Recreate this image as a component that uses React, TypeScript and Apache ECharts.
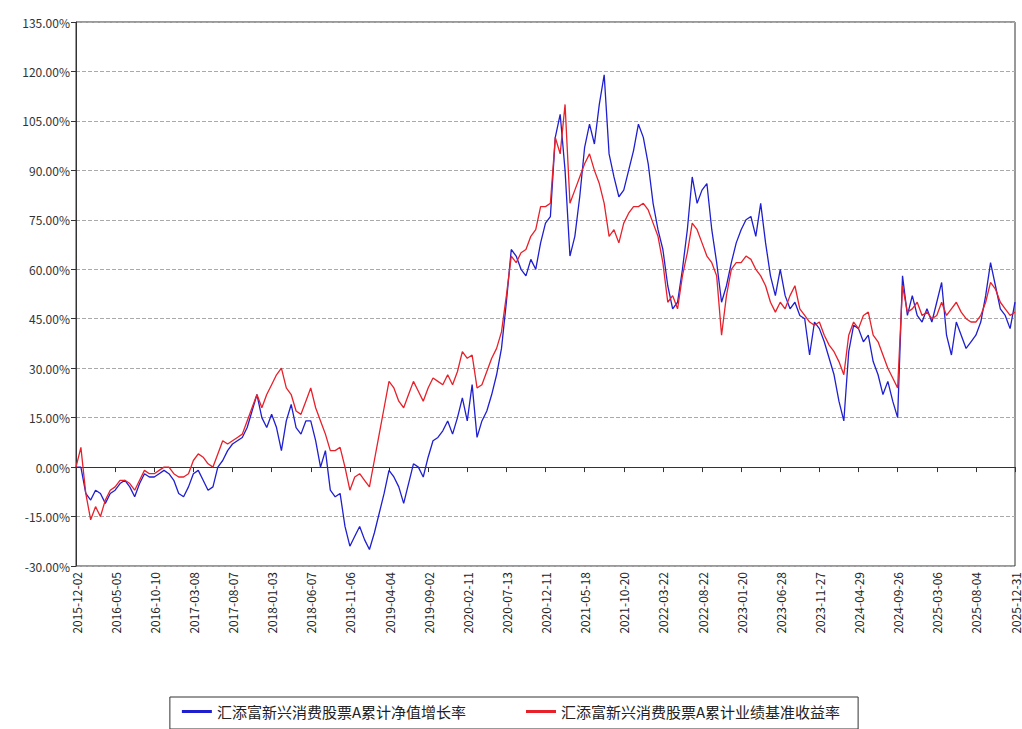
import React, { useEffect, useRef } from 'react';
import * as echarts from 'echarts';

// tick labels on the x axis; 7 unlabeled samples sit between each pair
const tickLabels = [
  '2015-12-02', '2016-05-05', '2016-10-10', '2017-03-08', '2017-08-07', '2018-01-03',
  '2018-06-07', '2018-11-06', '2019-04-04', '2019-09-02', '2020-02-11', '2020-07-13',
  '2020-12-11', '2021-05-18', '2021-10-20', '2022-03-22', '2022-08-22', '2023-01-20',
  '2023-06-28', '2023-11-27', '2024-04-29', '2024-09-26', '2025-03-06', '2025-08-04',
  '2025-12-31',
];

const navGrowth = [
  0, 0, -8, -10, -7, -8, -11, -8,
  -7, -5, -4, -6, -9, -5, -2, -3,
  -3, -2, -1, -2, -4, -8, -9, -6,
  -2, -1, -4, -7, -6, 0, 2, 5,
  7, 8, 9, 12, 17, 22, 15, 12,
  16, 12, 5, 14, 19, 12, 10, 14,
  14, 8, 0, 5, -7, -9, -8, -18,
  -24, -21, -18, -22, -25, -20, -14, -8,
  -1, -3, -6, -11, -5, 1, 0, -3,
  3, 8, 9, 11, 14, 10, 15, 21,
  14, 25, 9, 14, 17, 22, 28, 36,
  50, 66, 64, 60, 58, 63, 60, 68,
  74, 76, 100, 107, 90, 64, 70, 82,
  97, 104, 98, 110, 119, 95, 88, 82,
  84, 90, 96, 104, 100, 92, 80, 72,
  66, 55, 48, 50, 60, 72, 88, 80,
  84, 86, 72, 62, 50, 55, 62, 68,
  72, 75, 76, 70, 80, 68, 58, 52,
  60, 52, 48, 50, 46, 45, 34, 44,
  42, 38, 33, 28, 20, 14, 35, 43,
  42, 38, 40, 32, 28, 22, 26, 20,
  15, 58, 46, 52, 46, 44, 48, 44,
  50, 56, 40, 34, 44, 40, 36, 38,
  40, 44, 52, 62, 55, 48, 46, 42,
  50,
];

const benchmark = [
  0, 6, -8, -16, -12, -15, -10, -7,
  -6, -4, -4, -5, -7, -4, -1, -2,
  -2, -1, 0, 0, -2, -3, -3, -2,
  2, 4, 3, 1, 0, 4, 8, 7,
  8, 9, 10, 14, 18, 22, 18, 22,
  25, 28, 30, 24, 22, 17, 16, 20,
  24, 18, 14, 10, 5, 5, 6, 0,
  -7, -3, -2, -4, -6, 2, 10, 18,
  26, 24, 20, 18, 22, 26, 23, 20,
  24, 27, 26, 25, 28, 25, 29, 35,
  33, 34, 24, 25, 29, 33, 36, 41,
  52, 64, 62, 65, 66, 70, 72, 79,
  79, 80, 100, 95, 110, 80, 84, 88,
  92, 95, 90, 86, 80, 70, 72, 68,
  74, 77, 79, 79, 80, 78, 74, 70,
  62, 50, 52, 48, 58, 65, 74, 72,
  68, 64, 62, 58, 40, 52, 60, 62,
  62, 64, 63, 60, 58, 55, 50, 47,
  50, 48, 52, 55, 48, 46, 44, 43,
  44, 40, 37, 35, 32, 28, 40, 44,
  42, 46, 47, 40, 38, 34, 30, 27,
  24, 55, 47, 48, 50, 46, 47, 45,
  46, 50, 46, 48, 50, 47, 45, 44,
  44, 46, 50, 56, 54, 50, 48, 46,
  47,
];

const categories = tickLabels.flatMap((d, i) =>
  i < tickLabels.length - 1 ? [d, '', '', '', '', '', '', ''] : [d]
);

const seriesNames = ['汇添富新兴消费股票A累计净值增长率', '汇添富新兴消费股票A累计业绩基准收益率'];

const App: React.FC = () => {
  const chartRef = useRef<HTMLDivElement>(null);

  useEffect(() => {
    if (!chartRef.current) return;
    const chart = echarts.init(chartRef.current, undefined, { renderer: 'svg' });
    const font = '"Noto Sans CJK SC", sans-serif';

    chart.setOption({
      animation: false,
      textStyle: { fontFamily: font },
      grid: {
        left: 76, right: 7, top: 22, bottom: 163,
        show: true, borderColor: '#333', borderWidth: 1,
      },
      legend: {
        data: seriesNames,
        left: 'center',
        top: 697,
        icon: 'rect',
        itemWidth: 30,
        itemHeight: 3,
        itemGap: 60,
        borderColor: '#333',
        borderWidth: 1,
        padding: [7, 18, 10, 12],
        textStyle: { fontSize: 15, color: '#222', fontFamily: font },
      },
      xAxis: {
        type: 'category',
        data: categories,
        boundaryGap: false,
        axisLine: { lineStyle: { color: '#333' } },
        axisTick: { interval: 7, length: 5, lineStyle: { color: '#333' } },
        axisLabel: { interval: 7, rotate: 90, fontSize: 12, color: '#222', margin: 6, fontFamily: font },
        splitLine: { show: false },
      },
      yAxis: {
        type: 'value',
        min: -30,
        max: 135,
        interval: 15,
        axisLine: { show: true, lineStyle: { color: '#333' } },
        axisTick: { show: true, length: 5, lineStyle: { color: '#333' } },
        axisLabel: {
          fontSize: 12, color: '#333', margin: 6, fontFamily: font,
          formatter: (v: number) => v.toFixed(2) + '%',
        },
        splitLine: { lineStyle: { color: '#aaa', type: 'dashed' } },
      },
      series: [
        {
          name: seriesNames[0], type: 'line', data: navGrowth, showSymbol: false,
          lineStyle: { color: '#1f1fd0', width: 1.3 }, itemStyle: { color: '#1f1fd0' },
        },
        {
          name: seriesNames[1], type: 'line', data: benchmark, showSymbol: false,
          lineStyle: { color: '#e8202a', width: 1.3 }, itemStyle: { color: '#e8202a' },
        },
      ],
    });

    return () => {
      chart.dispose();
    };
  }, []);

  return (
    <div
      ref={chartRef}
      style={{ position: 'absolute', left: 0, top: 0, width: '1022px', height: '729px', background: '#fff' }}
    />
  );
};

export default App;
